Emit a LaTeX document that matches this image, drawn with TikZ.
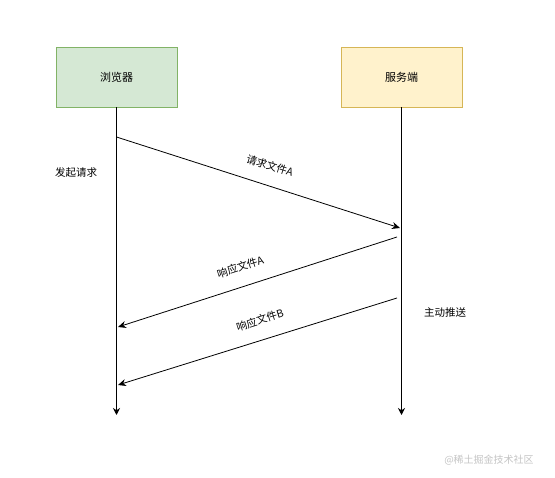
\documentclass[tikz,border=0pt]{standalone}
\usepackage{fontspec}
\setmainfont{Noto Sans CJK SC}
\usetikzlibrary{arrows.meta}
\usepackage{xcolor}
\definecolor{bg}{HTML}{d5e8d4}
\definecolor{bgd}{HTML}{82b366}
\definecolor{by}{HTML}{fff2cc}
\definecolor{byd}{HTML}{d6b656}
\definecolor{ki}{HTML}{000000}
\definecolor{kmark}{HTML}{c4c4c4}

\tikzset{
  party/.style={draw,line width=0.8pt,minimum width=121pt,minimum height=60pt,font=\fontsize{11}{13}\selectfont},
  life/.style={ki,line width=0.9pt,-{Stealth[length=7pt,width=7pt]}},
  msg/.style={ki,line width=0.8pt,-{Stealth[length=8pt,width=7pt]}},
  tag/.style={font=\fontsize{10.5}{12}\selectfont,sloped,above=11pt}
}

\begin{document}
\begin{tikzpicture}[x=1pt,y=-1pt]
  % Page
  \useasboundingbox (0,0) rectangle (555,478);

  % The two parties
  \node[party,fill=bg,draw=bgd] (browser) at (116.5,77) {浏览器};
  \node[party,fill=by,draw=byd] (server) at (401.5,77) {服务端};

  % Lifelines
  \coordinate (bend) at (116.5,415);
  \coordinate (send) at (401.5,415);
  \draw[life] (browser.south) -- (bend);
  \draw[life] (server.south) -- (send);

  % Points on the lifelines
  \coordinate (b1) at (116.5,137);
  \coordinate (s1) at (400,228);
  \coordinate (s2) at (397,237);
  \coordinate (b2) at (118,327);
  \coordinate (s3) at (397,298);
  \coordinate (b3) at (118,385);

  % Messages
  \draw[msg] (b1) -- node[tag,pos=0.52] {请求文件A} (s1);
  \draw[msg] (s2) -- node[tag,pos=0.54] {响应文件A} (b2);
  \draw[msg] (s3) -- node[tag,pos=0.47] {响应文件B} (b3);

  % Side notes
  \node[font=\fontsize{10.5}{12}\selectfont] (ask) at (76,173) {发起请求};
  \node[font=\fontsize{10.5}{12}\selectfont] (push) at (445,313) {主动推送};

  % Watermark
  \node[kmark,font=\fontsize{10}{12}\selectfont] (mark) at (489,460) {@稀土掘金技术社区};
\end{tikzpicture}
\end{document}
